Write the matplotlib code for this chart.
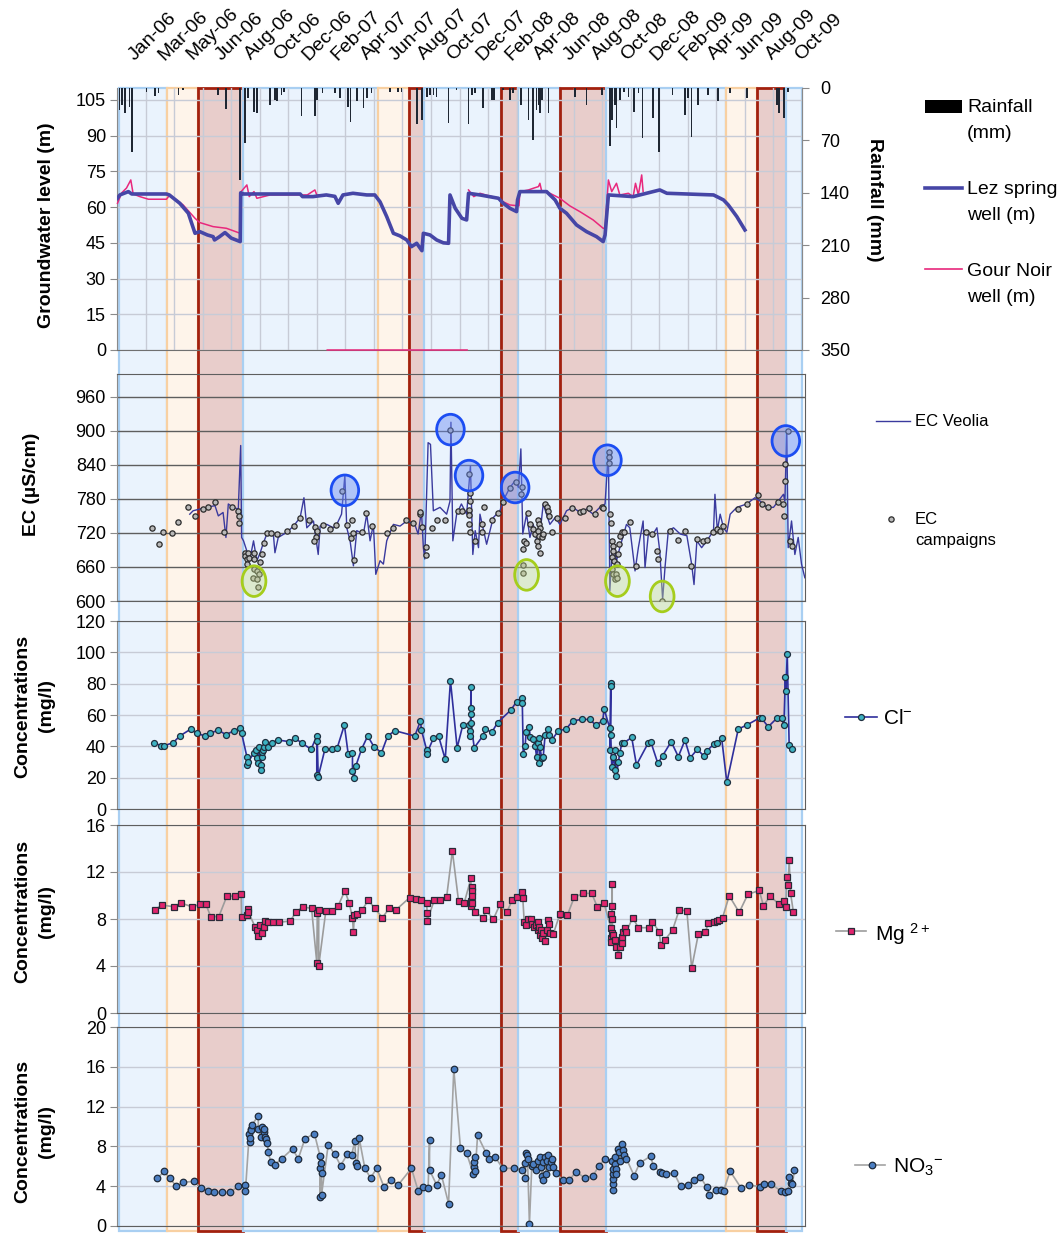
import datetime as dt
import numpy as np
import matplotlib
matplotlib.use("Agg")
import matplotlib.pyplot as plt
from matplotlib.patches import Rectangle, Ellipse
from matplotlib.lines import Line2D

plt.rcParams["font.family"] = ["Liberation Sans", "DejaVu Sans"]
plt.rcParams["mathtext.fontset"] = "custom"
plt.rcParams["mathtext.rm"] = "Liberation Sans"
plt.rcParams["mathtext.default"] = "regular"

# ---------------------------------------------------------------- data
# time is counted in days from 1 January 2006
START = dt.date(2006, 1, 1)

# hydrological periods: edges (days) and type of each period
period_edges = [5, 106, 171, 264, 549, 614, 645, 807, 844, 931, 1028, 1280, 1345, 1406, 1439]
period_kind = ["wet", "recession", "dry", "wet", "recession", "dry", "wet",
               "dry", "wet", "dry", "wet", "recession", "dry", "wet"]

# daily rainfall (mm)
rain = [(5, 29), (10, 23), (17, 33), (26, 25), (31, 85), (62, 5), (80, 11), (87, 7), (129, 9), (139, 3),
        (213, 9), (229, 28), (259, 123), (269, 73), (276, 14), (288, 32), (294, 34), (322, 23), (332, 16), (336, 18),
        (346, 9), (351, 5), (388, 38), (416, 38), (420, 16), (432, 7), (458, 7), (469, 14), (486, 25), (491, 45),
        (504, 18), (518, 27), (525, 14), (535, 7), (574, 5), (591, 5), (598, 5), (630, 48), (641, 43), (651, 12),
        (658, 9), (665, 9), (672, 12), (697, 47), (714, 3), (739, 48), (746, 9), (753, 7), (770, 27), (788, 16),
        (793, 16), (812, 3), (826, 16), (833, 7), (849, 23), (865, 43), (875, 69), (882, 29), (886, 23), (889, 34),
        (893, 16), (907, 34), (963, 12), (987, 23), (1019, 9), (1036, 78), (1040, 43), (1047, 23), (1050, 54), (1057, 16),
        (1066, 5), (1075, 12), (1087, 32), (1096, 7), (1105, 67), (1127, 40), (1140, 85), (1168, 9), (1194, 36), (1201, 14),
        (1208, 65), (1222, 23), (1243, 9), (1264, 18), (1289, 7), (1324, 14), (1387, 23), (1392, 34), (1402, 40), (1411, 5)]

# groundwater level, Lez spring well (m)
lez_level = [(1, 63.7), (6, 65.1), (24, 66.5), (31, 65.5), (70, 65.5), (104, 65.5), (110, 65.1), (132, 61.6),
             (150, 57.4), (164, 49.0), (174, 49.7), (190, 48.3), (202, 47.6), (205, 46.2), (215, 47.5), (227, 49.3),
             (240, 47.0), (259, 45.5), (260, 66.0), (266, 65.5), (385, 65.5), (390, 64.4), (412, 64.4), (440, 65.1),
             (458, 64.5), (465, 61.6), (475, 65.1), (496, 65.8), (525, 65.1), (542, 65.1), (553, 62.2), (567, 56.0),
             (581, 49.0), (595, 47.9), (609, 46.2), (619, 43.4), (630, 44.8), (641, 41.7), (644, 49.0), (658, 48.3),
             (672, 46.2), (686, 45.0), (697, 44.8), (700, 65.1), (711, 59.5), (725, 55.3), (735, 54.6), (739, 65.8),
             (763, 65.1), (802, 63.7), (812, 61.6), (826, 59.5), (840, 58.1), (842, 63.0), (847, 66.5), (903, 66.5),
             (921, 63.0), (931, 59.5), (945, 57.4), (966, 52.5), (987, 49.7), (1008, 47.6), (1022, 45.5), (1026, 48.3),
             (1033, 65.1), (1085, 64.4), (1141, 67.2), (1156, 65.8), (1254, 65.1), (1275, 63.0), (1285, 60.9),
             (1303, 56.0), (1320, 50.4)]

# groundwater level, Gour Noir well (m); nan marks gaps in the record
gour_level = [(1, 61.6), (10, 66.0), (20, 68.0), (29, 71.4), (34, 65.5), (48, 64.4), (66, 63.3), (104, 63.3),
              (111, 65.1), (139, 60.9), (164, 55.3), (174, 53.5), (202, 51.8), (230, 51.1), (259, 49.0), (261, 66.5),
              (273, 69.3), (278, 64.4), (288, 66.5), (294, 63.7), (322, 65.1), (360, 65.1), (400, 65.1), (416, 67.2),
              (420, 65.1), (441, 65.1), (441, np.nan), (442, 0.0), (736, 0.0), (736, np.nan), (739, 67.2), (750, 64.4),
              (763, 65.8), (775, 65.1), (802, 63.7), (812, 62.2), (826, 60.9), (845, 60.5), (847, 66.5), (865, 67.2),
              (875, 67.9), (886, 68.6), (889, 70.0), (893, 66.5), (903, 66.5), (931, 63.7), (952, 60.5), (973, 58.1),
              (1001, 54.6), (1022, 51.1), (1026, 51.1), (1033, 71.4), (1040, 66.5), (1050, 70.0), (1057, 65.1),
              (1075, 65.8), (1085, 64.4), (1090, 70.0), (1096, 65.1), (1103, 73.5), (1106, 66.5)]

# continuous electrical conductivity from the operator (uS/cm)
ec_veolia = [(153, 753), (160, 759), (174, 762), (188, 765), (206, 768), (213, 750), (223, 756), (229, 712), (234, 771), (244, 765),
             (255, 762), (260, 874), (262, 712), (266, 706), (273, 688), (280, 676), (287, 706), (294, 671), (301, 685), (308, 703),
             (315, 718), (329, 715), (332, 685), (339, 712), (357, 721), (371, 732), (385, 747), (393, 782), (399, 729), (413, 741),
             (423, 682), (427, 732), (441, 735), (455, 729), (462, 735), (472, 753), (479, 821), (483, 729), (490, 706), (497, 662),
             (504, 724), (518, 718), (525, 753), (532, 706), (539, 735), (544, 647), (553, 671), (560, 665), (567, 706), (581, 735),
             (595, 732), (609, 741), (626, 735), (633, 718), (640, 759), (644, 694), (647, 674), (654, 879), (659, 876), (665, 759),
             (679, 765), (693, 753), (700, 776), (702, 915), (706, 706), (714, 753), (724, 771), (735, 753), (743, 838), (748, 682),
             (753, 724), (760, 694), (763, 753), (777, 700), (791, 747), (805, 759), (812, 777), (826, 800), (837, 812), (844, 800),
             (849, 868), (853, 718), (861, 753), (868, 712), (875, 735), (886, 694), (896, 771), (903, 753), (910, 735), (921, 747),
             (931, 735), (945, 759), (959, 765), (973, 756), (987, 762), (1001, 753), (1015, 765), (1026, 771), (1033, 865), (1036, 618),
             (1042, 706), (1050, 671), (1057, 694), (1071, 735), (1078, 729), (1089, 653), (1096, 694), (1106, 741), (1110, 659), (1117, 718),
             (1127, 718), (1135, 729), (1141, 688), (1147, 603), (1152, 659), (1159, 724), (1170, 729), (1184, 718), (1198, 715), (1208, 665),
             (1213, 629), (1219, 706), (1229, 694), (1240, 706), (1254, 724), (1257, 788), (1262, 724), (1268, 753), (1275, 729), (1282, 721),
             (1289, 753), (1303, 765), (1324, 771), (1341, 782), (1352, 776), (1366, 765), (1380, 765), (1390, 776), (1401, 788), (1404, 776),
             (1408, 900), (1411, 694), (1418, 741), (1425, 682), (1432, 712), (1439, 665), (1446, 641)]

# conductivity of the sampling campaigns (uS/cm)
ec_campaign = [(74, 728), (88, 700), (97, 721), (115, 719), (128, 740), (150, 765), (163, 750), (180, 762), (192, 766), (206, 774),
               (225, 721), (241, 765), (255, 759), (257, 750), (257, 738), (270, 685), (270, 679), (273, 674), (273, 665), (276, 684),
               (278, 676), (287, 685), (288, 674), (287, 656), (294, 653), (299, 647), (285, 641), (294, 638), (297, 624), (301, 668),
               (304, 682), (308, 703), (315, 719), (323, 719), (337, 718), (358, 724), (372, 732), (385, 747), (404, 742), (416, 731),
               (420, 724), (418, 713), (415, 706), (434, 734), (448, 726), (460, 734), (474, 793), (483, 734), (491, 711), (495, 742),
               (497, 719), (499, 672), (514, 721), (523, 755), (537, 732), (567, 719), (581, 729), (607, 743), (623, 737), (637, 753),
               (638, 756), (641, 731), (650, 695), (650, 681), (662, 729), (673, 743), (690, 743), (699, 902), (716, 758), (725, 758),
               (741, 824), (742, 791), (743, 777), (741, 760), (739, 752), (739, 735), (742, 722), (753, 706), (767, 721), (772, 765),
               (767, 735), (788, 742), (800, 755), (812, 774), (826, 799), (839, 809), (851, 801), (849, 789), (865, 755), (868, 735),
               (856, 706), (853, 691), (860, 703), (854, 663), (854, 650), (875, 727), (879, 718), (882, 706), (886, 742), (888, 735),
               (889, 729), (886, 724), (888, 715), (884, 697), (889, 684), (893, 712), (896, 718), (900, 771), (903, 765), (907, 759),
               (909, 750), (914, 721), (926, 747), (942, 747), (956, 763), (973, 756), (979, 759), (993, 764), (1005, 753), (1019, 765),
               (1022, 763), (1035, 862), (1035, 853), (1035, 844), (1036, 753), (1038, 738), (1040, 706), (1042, 697), (1043, 688), (1040, 677),
               (1045, 671), (1040, 656), (1042, 647), (1047, 638), (1050, 647), (1052, 641), (1052, 665), (1054, 682), (1056, 700), (1057, 715),
               (1061, 721), (1066, 721), (1078, 740), (1091, 662), (1113, 721), (1124, 718), (1136, 688), (1138, 674), (1146, 600), (1163, 724),
               (1180, 708), (1193, 724), (1206, 662), (1220, 709), (1231, 706), (1241, 707), (1252, 722), (1261, 726), (1268, 724), (1273, 732),
               (1306, 762), (1324, 771), (1348, 787), (1355, 771), (1369, 765), (1390, 775), (1401, 771), (1402, 750), (1404, 812), (1404, 842),
               (1411, 899), (1415, 706), (1418, 697)]

# highlighted conductivity events: high peaks and low drops
ec_peaks = [(479, 795), (701, 902), (740, 821), (837, 800), (1031, 848), (1406, 882)]
ec_drops = [(288, 635), (861, 646), (1052, 635), (1146, 608)]

# chloride (mg/l)
chloride = [(78, 42.3), (92, 40.4), (99, 40.4), (118, 42.3), (132, 46.6), (155, 51.0), (168, 48.3), (185, 46.6), (196, 48.3), (213, 50.4),
            (229, 47.4), (246, 50.0), (259, 51.5), (262, 48.3), (273, 33.4), (273, 28.1), (276, 30.2), (288, 35.9), (292, 37.6), (295, 32.3),
            (297, 29.6), (299, 39.3), (302, 28.1), (302, 24.9), (304, 33.4), (304, 36.6), (306, 37.6), (309, 39.3), (311, 43.0), (317, 39.8),
            (325, 42.3), (339, 44.0), (362, 43.0), (374, 45.1), (388, 42.3), (408, 38.1), (420, 46.6), (421, 43.4), (420, 21.7), (423, 20.6),
            (437, 38.1), (451, 38.1), (463, 39.1), (478, 53.6), (486, 35.1), (495, 35.9), (495, 24.2), (498, 19.6), (502, 27.4), (514, 38.1),
            (527, 46.6), (540, 39.8), (556, 35.9), (569, 46.6), (584, 50.0), (626, 46.6), (638, 56.2), (640, 50.4), (651, 37.6), (651, 35.1),
            (665, 45.1), (676, 46.6), (690, 31.7), (701, 81.9), (715, 39.1), (727, 53.6), (741, 53.6), (744, 77.6), (744, 64.7), (744, 60.4),
            (744, 55.1), (742, 50.0), (743, 46.6), (751, 39.1), (769, 46.6), (774, 51.0), (788, 49.0), (800, 55.1), (828, 63.2), (840, 68.5),
            (851, 71.0), (852, 67.9), (860, 48.9), (858, 40.2), (854, 35.1), (867, 52.5), (868, 46.2), (875, 44.7), (879, 40.4), (882, 33.4),
            (886, 41.9), (888, 45.1), (889, 39.3), (888, 29.1), (893, 32.3), (896, 33.4), (900, 47.2), (905, 51.0), (909, 47.2), (914, 44.0),
            (928, 50.0), (944, 51.0), (958, 56.2), (977, 57.2), (994, 57.2), (1006, 53.6), (1021, 56.2), (1024, 63.8), (1038, 80.6), (1038, 78.5),
            (1036, 51.5), (1038, 47.2), (1036, 37.6), (1040, 27.0), (1043, 33.4), (1047, 24.9), (1050, 21.3), (1047, 37.6), (1054, 30.2), (1057, 35.5),
            (1061, 41.9), (1066, 42.3), (1082, 45.7), (1092, 28.1), (1117, 42.3), (1122, 43.0), (1137, 29.1), (1147, 34.0), (1165, 43.0), (1180, 33.4),
            (1194, 44.0), (1205, 32.7), (1220, 38.1), (1233, 34.0), (1240, 37.0), (1254, 41.3), (1262, 41.9), (1271, 45.5), (1282, 17.0), (1306, 51.0),
            (1324, 53.6), (1352, 58.3), (1355, 57.9), (1369, 52.5), (1387, 57.9), (1397, 57.9), (1402, 53.6), (1405, 84.4), (1406, 75.3), (1409, 98.7),
            (1413, 40.8), (1418, 38.1)]

# magnesium (mg/l)
magnesium = [(79, 8.76), (94, 9.19), (120, 9.04), (134, 9.38), (157, 9.04), (175, 9.24), (187, 9.24), (197, 8.20), (214, 8.20), (231, 9.95),
             (248, 9.95), (261, 10.09), (262, 8.20), (273, 8.34), (275, 8.82), (276, 8.62), (290, 7.35), (294, 7.07), (297, 6.59), (301, 7.49),
             (304, 6.78), (309, 7.35), (311, 7.83), (318, 7.72), (327, 7.72), (341, 7.72), (364, 7.83), (376, 8.56), (390, 9.04), (409, 8.90),
             (421, 8.48), (424, 8.76), (420, 4.29), (424, 4.01), (439, 8.68), (453, 8.68), (465, 9.13), (479, 10.40), (488, 9.38), (495, 8.11),
             (497, 6.92), (499, 8.34), (505, 8.42), (516, 8.79), (528, 9.61), (542, 8.90), (558, 8.11), (572, 8.90), (586, 8.76), (615, 9.81),
             (629, 9.70), (640, 9.58), (651, 9.38), (652, 8.48), (652, 7.83), (667, 9.61), (679, 9.61), (693, 9.89), (705, 13.79), (718, 9.53),
             (730, 9.38), (744, 11.45), (747, 10.74), (747, 10.37), (747, 9.95), (744, 9.53), (746, 9.33), (744, 9.10), (753, 8.56), (770, 8.11),
             (776, 8.76), (791, 7.97), (805, 9.24), (819, 8.56), (831, 9.61), (840, 9.89), (852, 10.32), (853, 9.81), (856, 7.77), (860, 7.49),
             (865, 8.00), (870, 8.00), (872, 7.55), (877, 7.29), (881, 7.49), (884, 7.07), (886, 7.72), (888, 7.35), (889, 6.64), (891, 7.07),
             (893, 6.36), (896, 6.78), (900, 6.13), (903, 7.07), (907, 7.91), (909, 7.55), (910, 6.78), (917, 6.70), (931, 8.42), (947, 8.34),
             (961, 9.84), (980, 10.18), (998, 10.18), (1010, 8.99), (1024, 9.33), (1041, 11.02), (1041, 9.13), (1039, 8.39), (1041, 7.97), (1038, 7.27),
             (1040, 6.78), (1039, 6.41), (1039, 6.02), (1043, 6.64), (1047, 6.22), (1050, 5.65), (1054, 4.95), (1057, 5.65), (1061, 5.94), (1062, 6.50),
             (1064, 6.92), (1068, 7.26), (1071, 6.92), (1084, 8.11), (1096, 7.26), (1119, 7.26), (1125, 7.77), (1140, 6.92), (1143, 5.79), (1152, 6.22),
             (1168, 7.07), (1182, 8.79), (1198, 8.68), (1208, 3.81), (1222, 6.70), (1237, 6.92), (1243, 7.63), (1256, 7.77), (1261, 7.83), (1266, 7.91),
             (1273, 8.11), (1287, 9.98), (1308, 8.56), (1326, 10.09), (1350, 10.43), (1359, 9.13), (1373, 9.95), (1392, 9.24), (1402, 9.53), (1406, 9.04),
             (1408, 11.59), (1411, 10.88), (1413, 13.00), (1416, 10.18), (1422, 8.56)]

# nitrate (mg/l)
nitrate = [(85, 4.79), (99, 5.50), (111, 4.79), (125, 3.98), (139, 4.39), (162, 4.49), (177, 3.81), (191, 3.54), (203, 3.37), (220, 3.37),
           (238, 3.37), (254, 3.98), (270, 4.12), (270, 3.54), (280, 8.44), (280, 8.87), (278, 9.28), (281, 9.78), (283, 10.12), (281, 9.62),
           (297, 11.07), (297, 9.78), (303, 8.94), (304, 9.95), (308, 9.45), (309, 9.78), (311, 8.94), (313, 8.77), (316, 8.33), (318, 7.42),
           (323, 6.48), (332, 6.17), (346, 6.75), (369, 7.76), (381, 6.75), (395, 8.77), (415, 9.28), (427, 6.99), (428, 6.31), (427, 5.80),
           (430, 5.30), (427, 2.87), (430, 3.14), (444, 8.17), (458, 7.19), (470, 6.07), (484, 7.19), (493, 7.09), (500, 8.54), (502, 6.34),
           (505, 6.07), (509, 8.87), (521, 5.80), (533, 4.83), (546, 5.80), (561, 3.95), (576, 4.62), (591, 4.12), (619, 5.80), (633, 3.54),
           (643, 3.95), (654, 3.78), (657, 8.60), (657, 5.63), (672, 4.12), (682, 5.13), (697, 2.26), (708, 15.76), (722, 7.86), (735, 7.32),
           (749, 5.23), (751, 5.91), (751, 6.41), (753, 6.92), (753, 5.50), (758, 9.11), (776, 7.32), (781, 6.75), (795, 6.92), (811, 5.80),
           (835, 5.80), (851, 5.63), (858, 6.31), (860, 7.32), (861, 7.09), (863, 6.75), (858, 4.79), (867, 0.20), (872, 6.07), (875, 6.24),
           (881, 5.63), (886, 6.58), (889, 6.92), (891, 5.91), (893, 5.06), (895, 4.62), (896, 6.41), (900, 6.92), (902, 5.23), (903, 6.58),
           (907, 7.09), (909, 5.91), (912, 6.41), (914, 6.75), (916, 5.91), (923, 5.30), (937, 4.62), (951, 4.62), (965, 5.47), (984, 4.79),
           (1001, 5.06), (1013, 6.07), (1026, 6.75), (1040, 6.58), (1042, 3.61), (1042, 4.22), (1042, 4.72), (1043, 5.23), (1043, 5.74), (1046, 6.24),
           (1047, 6.92), (1049, 5.74), (1050, 5.23), (1053, 7.76), (1056, 7.42), (1057, 6.58), (1061, 8.20), (1063, 7.59), (1066, 7.09), (1071, 6.75),
           (1087, 5.06), (1099, 6.34), (1122, 7.02), (1127, 6.07), (1141, 5.47), (1145, 5.30), (1154, 5.23), (1171, 5.33), (1185, 3.98), (1201, 4.12),
           (1212, 4.66), (1226, 4.96), (1240, 3.88), (1245, 3.14), (1259, 3.64), (1269, 3.64), (1275, 3.54), (1289, 5.50), (1312, 3.81), (1329, 4.12),
           (1352, 3.95), (1361, 4.22), (1375, 4.22), (1395, 3.54), (1404, 3.37), (1411, 3.54), (1413, 4.89), (1416, 4.29), (1420, 4.22), (1424, 5.63)]

# ---------------------------------------------------------------- helpers
W, H = 1062, 1233
fig = plt.figure(figsize=(W / 100, H / 100), dpi=100)


def box(x0, y0, x1, y1):
    """Axes rectangle from pixel corners (origin top-left)."""
    return [x0 / W, 1 - y1 / H, (x1 - x0) / W, (y1 - y0) / H]


def fx(x):
    return x / W


def fy(y):
    return 1 - y / H


def series(pairs, sort=True):
    arr = np.array(pairs, dtype=float)
    if sort:
        arr = arr[np.argsort(arr[:, 0], kind="stable")]
    return arr[:, 0], arr[:, 1]


DAY_PX = 685 / 1440.0          # pixels per day on the shared time scale
XMAX = 1440
XMAX_LOW = 688 / DAY_PX        # lower panels are a few pixels wider
grid_days = np.arange(0, 1441, 60)
label_days = grid_days[:24]
date_labels = [(START + dt.timedelta(days=int(d))).strftime("%b-%y") for d in label_days]

TICK = 13
DARK = "#5E5E5E"
SPINE = "#8A8A8A"
LIGHT = "#C7CBD6"

# ---------------------------------------------------------------- period bands
bg = fig.add_axes(box(117, 88, 802, 1231))
bg.set_xlim(0, XMAX)
bg.set_ylim(0, 1)
bg.axis("off")
band_style = {"wet": ("#EAF3FD", "#A9CFF2", 1.6),
              "recession": ("#FEF4EA", "#F8D0A2", 1.6),
              "dry": ("#E8CDCB", "#A2200E", 2.0)}
for a, b, kind in zip(period_edges[:-1], period_edges[1:], period_kind):
    fc, ec, lw = band_style[kind]
    bg.add_patch(Rectangle((a, 0), b - a, 1, facecolor=fc, edgecolor=ec,
                           linewidth=lw, clip_on=False))

# ---------------------------------------------------------------- date labels
axd = fig.add_axes(box(135, 62, 801, 63))
axd.set_xlim(0, label_days[-1])
axd.set_xticks(label_days)
axd.set_xticklabels(date_labels, rotation=45, ha="left", va="baseline",
                    rotation_mode="anchor", fontsize=14)
axd.tick_params(axis="x", length=0, pad=1, labeltop=True, labelbottom=False)
axd.set_yticks([])
axd.patch.set_visible(False)
for s in axd.spines.values():
    s.set_visible(False)

# ---------------------------------------------------------------- panel 1: groundwater + rainfall
ax1 = fig.add_axes(box(117, 88, 802, 350))
ax1.patch.set_visible(False)
ax1.set_axisbelow(True)
ax1.set_xlim(0, XMAX)
ax1.set_ylim(0, 110)
ax1.set_yticks(np.arange(0, 106, 15))
ax1.set_xticks(grid_days)
ax1.grid(True, color=LIGHT, lw=1)
ax1.tick_params(axis="x", length=0, labelbottom=False)
ax1.tick_params(axis="y", length=5, color=SPINE, labelsize=TICK, pad=3)
ax1.spines["top"].set_visible(False)
ax1.spines["right"].set_visible(False)
ax1.spines["left"].set_color(SPINE)
ax1.spines["bottom"].set_color("#707070")

gd, gv = series(gour_level, sort=False)
ax1.plot(gd, gv, color="#E8287C", lw=1.1, zorder=3, clip_on=False)
ld, lv = series(lez_level)
ax1.plot(ld, lv, color="#4646A6", lw=2.6, zorder=4)

ax1r = ax1.twinx()
ax1r.set_ylim(350, 0)
ax1r.set_yticks(np.arange(0, 351, 70))
ax1r.tick_params(axis="y", length=5, color=SPINE, labelsize=TICK, pad=8)
for k in ("top", "left", "bottom"):
    ax1r.spines[k].set_visible(False)
ax1r.spines["right"].set_color(SPINE)
rd, rv = series(rain)
ax1r.bar(rd, rv, width=3.5, color="#1F2733", align="center")

# ---------------------------------------------------------------- panel 2: conductivity
ax2 = fig.add_axes(box(117, 374, 805, 601))
ax2.patch.set_visible(False)
ax2.set_axisbelow(True)
ax2.set_xlim(0, XMAX_LOW)
ax2.set_ylim(600, 1000)
ax2.set_yticks(np.arange(600, 961, 60))
ax2.set_xticks([])
ax2.grid(True, axis="y", color=DARK, lw=1)
ax2.tick_params(axis="y", length=5, color=SPINE, labelsize=TICK, pad=3)
for k in ("top", "right", "bottom"):
    ax2.spines[k].set_color(DARK)
ax2.spines["left"].set_color(SPINE)

vd, vv = series(ec_veolia)
ax2.plot(vd, vv, color="#3A3A9E", lw=1.0, zorder=3)
cd, cv = series(ec_campaign, sort=False)
ax2.plot(cd, cv, "o", ls="none", ms=3.8, mfc="#B9B9B9", mec="#2B2B2B", mew=0.9, zorder=4)
for d, v in ec_peaks:
    ax2.add_patch(Ellipse((d, v), 58, 54, facecolor=(0.42, 0.55, 0.95, 0.45),
                          edgecolor="#1C4DF2", lw=2.0, zorder=5, clip_on=False))
for d, v in ec_drops:
    ax2.add_patch(Ellipse((d, v), 50, 54, facecolor=(0.78, 0.87, 0.55, 0.40),
                          edgecolor="#A5CD1C", lw=2.0, zorder=5, clip_on=False))


# ---------------------------------------------------------------- panels 3-5: concentrations
def conc_panel(y0, y1, ymax, step, pairs, line_color, marker, face, edge, ms):
    ax = fig.add_axes(box(117, y0, 805, y1))
    ax.patch.set_visible(False)
    ax.set_axisbelow(True)
    ax.set_xlim(0, XMAX_LOW)
    ax.set_ylim(0, ymax)
    ax.set_yticks(np.arange(0, ymax + 0.1, step))
    ax.set_xticks([])
    ax.grid(True, axis="y", color=LIGHT, lw=1)
    ax.tick_params(axis="y", length=5, color=SPINE, labelsize=TICK, pad=3)
    for k in ("top", "right", "bottom"):
        ax.spines[k].set_color(DARK)
    ax.spines["left"].set_color(SPINE)
    d, v = series(pairs)
    ax.plot(d, v, color=line_color, lw=1.2, zorder=3)
    ax.plot(d, v, marker, ls="none", ms=ms, mfc=face, mec=edge, mew=0.9, zorder=4)
    return ax


conc_panel(621, 809, 120, 20, chloride, "#2F2F9C", "o", "#3DB2C2", "#1E2E3E", 4.3)
conc_panel(825, 1013, 16, 4, magnesium, "#9C9C9C", "s", "#E2256E", "#2A2A38", 3.7)
conc_panel(1027, 1226, 20, 4, nitrate, "#A3A3A3", "o", "#4B7EC2", "#1E2A3A", 4.7)

# ---------------------------------------------------------------- axis titles
bold = dict(fontsize=14, fontweight="bold", ha="center", va="center")
fig.text(fx(47), fy(225), "Groundwater level (m)", rotation=90, **bold)
fig.text(fx(31), fy(484), "EC (µS/cm)", rotation=90, **bold)
for yc in (706, 911, 1131):
    fig.text(fx(23), fy(yc), "Concentrations", rotation=90, **bold)
    fig.text(fx(47), fy(yc), "(mg/l)", rotation=90, **bold)
fig.text(fx(874), fy(200), "Rainfall (mm)", rotation=-90, **bold)

# ---------------------------------------------------------------- legends
def key_text(x, y, s, size=14):
    fig.text(fx(x), fy(y), s, fontsize=size, ha="left", va="center")


def key_line(x0, x1, y, **kw):
    fig.add_artist(Line2D([fx(x0), fx(x1)], [fy(y), fy(y)], **kw))


def key_marker(x, y, **kw):
    fig.add_artist(Line2D([fx(x)], [fy(y)], ls="none", **kw))


fig.add_artist(Rectangle((fx(925), fy(113)), (962 - 925) / W, 13 / H,
                         facecolor="black", edgecolor="none"))
key_text(967, 107, "Rainfall")
key_text(967, 133, "(mm)")
key_line(925, 962, 188, color="#4646A6", lw=2.6)
key_text(967, 190, "Lez spring")
key_text(967, 215, "well (m)")
key_line(925, 962, 269, color="#E8287C", lw=1.2)
key_text(967, 272, "Gour Noir")
key_text(967, 297, "well (m)")

key_line(876, 910, 421, color="#3A3A9E", lw=1.0)
key_text(915, 421, "EC Veolia", size=12)
key_marker(891, 519, marker="o", ms=3.8, mfc="#B9B9B9", mec="#2B2B2B", mew=0.9)
key_text(915, 519, "EC", size=12)
key_text(915, 541, "campaigns", size=12)

key_line(845, 877, 717, color="#2F2F9C", lw=1.2)
key_marker(861, 717, marker="o", ms=4.3, mfc="#3DB2C2", mec="#1E2E3E", mew=0.9)
key_text(883, 718, r"Cl$^{-}$", size=15)
key_line(836, 866, 931, color="#9C9C9C", lw=1.2)
key_marker(851, 931, marker="s", ms=3.7, mfc="#E2256E", mec="#2A2A38", mew=0.9)
key_text(875, 934, r"Mg $^{2+}$", size=15)
key_line(855, 885, 1165, color="#A3A3A3", lw=1.2)
key_marker(872, 1165, marker="o", ms=4.7, mfc="#4B7EC2", mec="#1E2A3A", mew=0.9)
key_text(893, 1167, r"NO$_3$$^{-}$", size=15)

fig.savefig("out.png", dpi=100)
